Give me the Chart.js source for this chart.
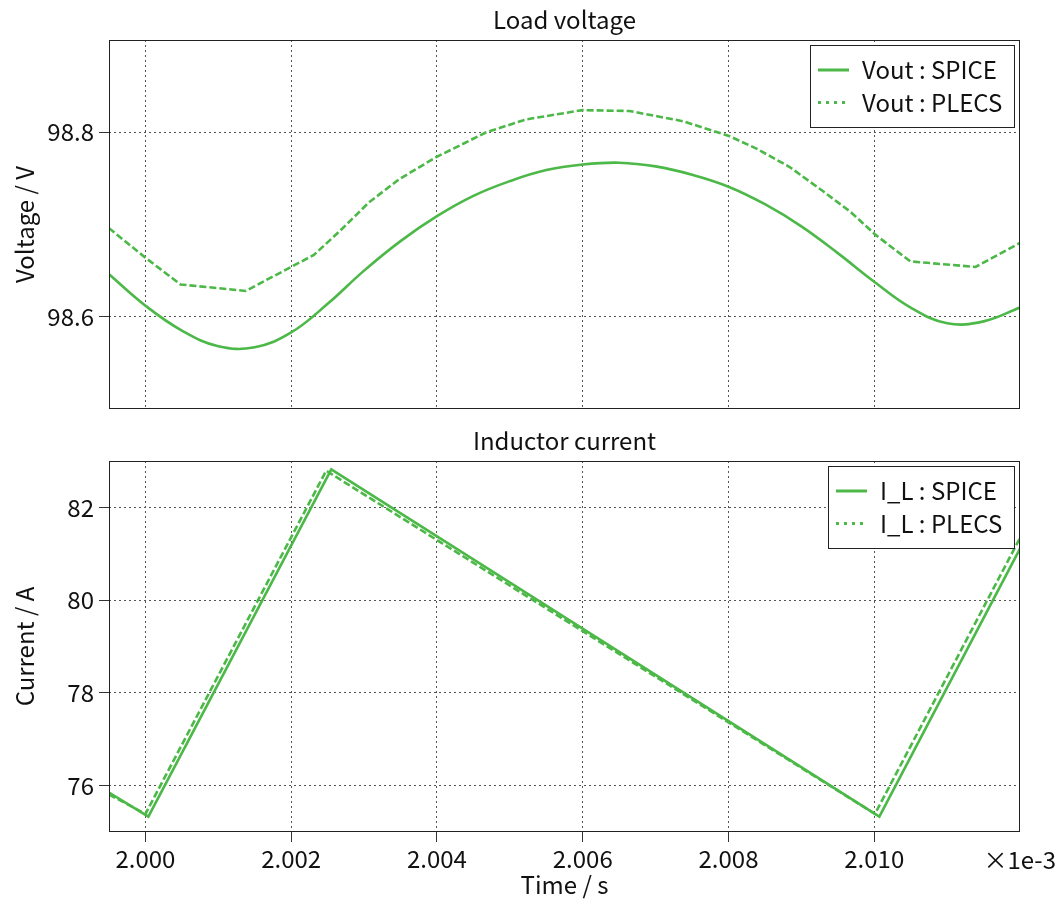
<!DOCTYPE html>
<html><head><meta charset="utf-8">
<script src="https://cdn.jsdelivr.net/npm/chart.js@4.4.1/dist/chart.umd.min.js"></script>
<style>
html,body{margin:0;padding:0;background:#fff;overflow:hidden;}
#w1{position:absolute;left:0;top:0;width:1059px;height:420px;}
#w2{position:absolute;left:0;top:420px;width:1059px;height:486px;}
</style></head><body>
<div id="w1"><canvas id="c1"></canvas></div>
<div id="w2"><canvas id="c2"></canvas></div>
<script>
// ---- data ----
const timeTicks = [2.000, 2.002, 2.004, 2.006, 2.008, 2.010];
const timeMin = 1.9995, timeMax = 2.012;
const voltTicks = [98.6, 98.8];
const voltMin = 98.5, voltMax = 98.9;
const currTicks = [76, 78, 80, 82];
const currMin = 75, currMax = 83;

const vSpiceT = [1.9995, 2.0000, 2.0005, 2.0010, 2.0015, 2.0020, 2.0025, 2.0030, 2.0035, 2.0040, 2.0045, 2.0050, 2.0055, 2.0060, 2.0065, 2.0070, 2.0075, 2.0080, 2.0085, 2.0090, 2.0095, 2.0100, 2.0105, 2.0110, 2.0115, 2.0120];
const vSpiceV = [98.646, 98.612, 98.585, 98.568, 98.567, 98.583, 98.614, 98.650, 98.682, 98.709, 98.731, 98.747, 98.759, 98.765, 98.767, 98.763, 98.754, 98.741, 98.722, 98.698, 98.669, 98.638, 98.610, 98.593, 98.595, 98.610];

const vPlecsT = [1.9995, 2.0000, 2.000481, 2.001376, 2.002311, 2.002655, 2.003067, 2.003480, 2.003989, 2.004347, 2.004677, 2.005227, 2.005997, 2.006644, 2.007373, 2.008006, 2.008391, 2.008845, 2.009299, 2.009670, 2.010014, 2.010495, 2.011389, 2.012];
const vPlecsV = [98.696, 98.664, 98.635, 98.628, 98.667, 98.692, 98.724, 98.749, 98.773, 98.787, 98.800, 98.814, 98.824, 98.823, 98.812, 98.796, 98.782, 98.762, 98.736, 98.714, 98.689, 98.660, 98.654, 98.680];

const iSpiceT = [1.9995, 2.00004, 2.00255, 2.01007, 2.012];
const iSpiceA = [75.85, 75.33, 82.82, 75.33, 81.11];
const iPlecsT = [1.9995, 2.0000, 2.00248, 2.01001, 2.012];
const iPlecsA = [75.81, 75.39, 82.79, 75.39, 81.34];

// ---- style ----
const GREEN = 'rgb(76,184,72)';
const FONT = '"Noto Sans CJK JP", "Noto Sans", sans-serif';
const FS = 24;
Chart.defaults.font.family = FONT;
Chart.defaults.font.size = FS;
Chart.defaults.color = '#111';

const pts = (t, v) => t.map((x, i) => ({x: x, y: v[i]}));

const boxLegend = {
  id: 'boxLegend',
  afterDraw(chart, args, opts) {
    const ctx = chart.ctx, a = chart.chartArea;
    ctx.save();
    ctx.setLineDash([]);
    ctx.strokeStyle = '#222';
    ctx.lineWidth = 1;
    ctx.strokeRect(Math.round(a.left) + 0.5, Math.round(a.top) + 0.5, Math.round(a.right - a.left) - 1, Math.round(a.bottom - a.top) - 1);
    ctx.font = FS + 'px ' + FONT;
    const ds = chart.data.datasets;
    const padL = 8, sample = 31, gap = 13, padR = 12, rowH = 32.5, h = 82;
    const tw = Math.max(...ds.map(d => ctx.measureText(d.label).width));
    const w = Math.round(padL + sample + gap + tw + padR);
    const x0 = Math.round(a.right - 6 - w), y0 = Math.round(a.top + opts.top);
    ctx.fillStyle = '#fff';
    ctx.fillRect(x0, y0, w, h);
    ctx.strokeStyle = '#222';
    ctx.strokeRect(x0 + 0.5, y0 + 0.5, w, h);
    ds.forEach((d, i) => {
      const cy = y0 + 25 + i * rowH;
      ctx.beginPath();
      ctx.setLineDash(opts.dashes[i]);
      ctx.strokeStyle = d.borderColor;
      ctx.lineWidth = 3;
      ctx.moveTo(x0 + padL, cy);
      ctx.lineTo(x0 + padL + sample, cy);
      ctx.stroke();
      ctx.setLineDash([]);
      ctx.fillStyle = '#111';
      ctx.textBaseline = 'middle';
      ctx.textAlign = 'left';
      ctx.fillText(d.label, x0 + padL + sample + gap, cy);
    });
    if (opts.exponent) {
      ctx.textAlign = 'right';
      ctx.textBaseline = 'middle';
      ctx.fillStyle = '#111';
      ctx.fillText(opts.exponent, 1056, a.bottom + 28);
    }
    ctx.restore();
  }
};

function zeroPad(s) { s.paddingTop = 0; s.paddingBottom = 0; s.paddingLeft = 0; s.paddingRight = 0; }

function makeChart(id, cfg) {
  return new Chart(document.getElementById(id), {
    type: 'line',
    data: {datasets: cfg.datasets},
    plugins: [boxLegend],
    options: {
      responsive: true,
      maintainAspectRatio: false,
      animation: false,
      devicePixelRatio: 1,
      layout: {padding: {left: 0, right: 39, top: 0, bottom: 0}},
      elements: {point: {radius: 0}},
      plugins: {
        legend: {display: false},
        tooltip: {enabled: false},
        title: {display: true, text: cfg.title, fullSize: false, font: {size: FS, weight: 'normal'}, color: '#111', padding: cfg.titlePad},
        boxLegend: {top: cfg.legendTop, dashes: [[], [3, 5]], exponent: cfg.exponent}
      },
      scales: {
        x: {
          type: 'linear', min: timeMin, max: timeMax,
          afterBuildTicks: s => { s.ticks = timeTicks.map(v => ({value: v})); },
          afterFit: s => { s.height = cfg.xHeight; zeroPad(s); },
          ticks: {display: cfg.xLabels, padding: 2.5, maxRotation: 0, autoSkip: false, callback: v => Number(v).toFixed(3), font: {size: FS}, color: '#111'},
          grid: {color: '#555', lineWidth: 1, drawTicks: cfg.xLabels, tickLength: 10, tickColor: '#333', tickBorderDash: [], tickWidth: 1},
          border: {display: false, dash: [2, 3]},
          title: {display: cfg.xLabels, text: 'Time / s', font: {size: FS}, color: '#111', padding: {top: 0, bottom: 6.6}}
        },
        y: {
          type: 'linear', min: cfg.yMin, max: cfg.yMax,
          afterBuildTicks: s => { s.ticks = cfg.yTicks.map(v => ({value: v})); },
          afterFit: s => { s.width = 109; zeroPad(s); },
          ticks: {padding: 5, callback: cfg.yFmt, font: {size: FS}, color: '#111'},
          grid: {color: '#555', lineWidth: 1, drawTicks: true, tickLength: 10, tickColor: '#333', tickBorderDash: [], tickWidth: 1},
          border: {display: false, dash: [2, 3]},
          title: {display: true, text: cfg.yTitle, font: {size: FS}, color: '#111', padding: {top: 10.6, bottom: 0}}
        }
      }
    }
  });
}

makeChart('c1', {
  title: 'Load voltage',
  titlePad: {top: 5.6, bottom: 5.6},
  legendTop: 5,
  xHeight: 11,
  xLabels: false,
  yMin: voltMin, yMax: voltMax, yTicks: voltTicks,
  yFmt: v => Number(v).toFixed(1),
  yTitle: 'Voltage / V',
  datasets: [
    {label: 'Vout : SPICE', data: pts(vSpiceT, vSpiceV), borderColor: GREEN, borderWidth: 2.6, tension: 0.4, fill: false},
    {label: 'Vout : PLECS', data: pts(vPlecsT, vPlecsV), borderColor: GREEN, borderWidth: 2.6, borderDash: [7, 3], tension: 0, fill: false}
  ]
});

makeChart('c2', {
  title: 'Inductor current',
  titlePad: {top: 6.6, bottom: 5.6},
  legendTop: 5,
  xHeight: 74,
  xLabels: true,
  exponent: '\u00d71e-3',
  yMin: currMin, yMax: currMax, yTicks: currTicks,
  yFmt: v => String(v),
  yTitle: 'Current / A',
  datasets: [
    {label: 'I_L : SPICE', data: pts(iSpiceT, iSpiceA), borderColor: GREEN, borderWidth: 2.6, tension: 0, fill: false},
    {label: 'I_L : PLECS', data: pts(iPlecsT, iPlecsA), borderColor: GREEN, borderWidth: 2.6, borderDash: [7, 3], tension: 0, fill: false}
  ]
});
</script>
</body></html>
